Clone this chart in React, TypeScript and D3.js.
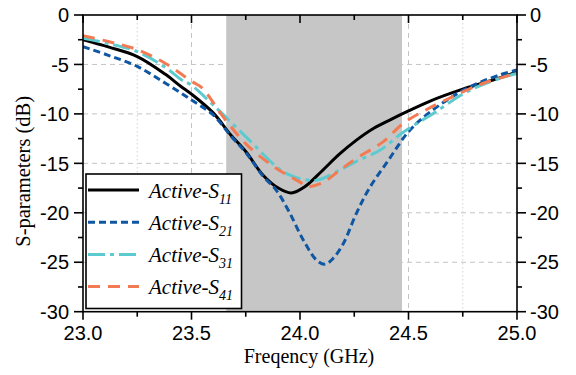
import React from "react";
import * as d3 from "d3";

// Frequency (GHz) and magnitude (dB) samples for each active S-parameter
const freqS11 = [23.0, 23.12, 23.25, 23.38, 23.45, 23.5, 23.6, 23.68, 23.75, 23.83, 23.9, 23.96, 24.02, 24.1, 24.18, 24.26, 24.34, 24.42, 24.5, 24.6, 24.75, 24.9, 25.0];
const dbS11 = [-2.5, -3.25, -4.2, -6.0, -7.2, -8.0, -9.9, -12.1, -13.8, -16.2, -17.5, -18.0, -17.4, -15.8, -14.1, -12.65, -11.45, -10.55, -9.7, -8.7, -7.5, -6.5, -5.75];

const freqS21 = [23.0, 23.12, 23.25, 23.38, 23.5, 23.6, 23.68, 23.75, 23.83, 23.89, 23.95, 24.015, 24.077, 24.115, 24.153, 24.2, 24.26, 24.32, 24.41, 24.5, 24.6, 24.77, 24.92, 25.0];
const dbS21 = [-3.2, -4.1, -5.2, -6.9, -8.6, -10.1, -12.2, -13.9, -16.3, -17.7, -19.9, -22.75, -24.8, -25.2, -24.6, -23.1, -20.05, -17.5, -14.6, -11.8, -9.8, -7.4, -6.07, -5.56];

const freqS31 = [23.0, 23.12, 23.25, 23.38, 23.45, 23.5, 23.6, 23.75, 23.9, 23.954, 24.0, 24.077, 24.184, 24.26, 24.37, 24.46, 24.5, 24.614, 24.77, 24.92, 25.0];
const dbS31 = [-2.35, -2.9, -3.7, -5.3, -6.5, -7.1, -9.1, -12.3, -15.5, -16.2, -16.55, -16.7, -15.67, -14.8, -13.65, -12.1, -11.5, -9.95, -7.75, -6.4, -5.9];

const freqS41 = [23.0, 23.12, 23.25, 23.38, 23.5, 23.55, 23.646, 23.754, 23.89, 24.0, 24.03, 24.1, 24.184, 24.26, 24.384, 24.476, 24.58, 24.69, 24.845, 25.0];
const dbS41 = [-2.1, -2.7, -3.5, -4.9, -6.7, -7.4, -10.3, -13.1, -15.5, -16.9, -17.35, -17.0, -15.67, -14.5, -12.8, -10.95, -9.6, -8.4, -6.9, -5.9];

// Highlighted operating band (GHz)
const bandStart = 23.66;
const bandEnd = 24.47;

const xTicks = [23.0, 23.5, 24.0, 24.5, 25.0];
const xMinorTicks = [23.25, 23.75, 24.25, 24.75];
const yTicks = [0, -5, -10, -15, -20, -25, -30];
const yMinorTicks = [-2.5, -7.5, -12.5, -17.5, -22.5, -27.5];

const seriesNames = ["11", "21", "31", "41"];

const W = 576;
const H = 375;
const left = 83;
const right = 517;
const top = 15;
const bottom = 311.7;

const axisFont = "Liberation Sans";
const titleFont = "Liberation Serif";

export default function App() {
  const x = d3.scaleLinear().domain([23, 25]).range([left, right]);
  const y = d3.scaleLinear().domain([-30, 0]).range([bottom, top]);

  const line = d3
    .line<[number, number]>()
    .x((d) => x(d[0]))
    .y((d) => y(d[1]))
    .curve(d3.curveCatmullRom.alpha(0.5));

  const zip = (f: number[], v: number[]) => f.map((fi, i) => [fi, v[i]] as [number, number]);

  const series = [
    { data: zip(freqS11, dbS11), color: "#000000", dash: "none", width: 3 },
    { data: zip(freqS21, dbS21), color: "#0f56a3", dash: "7 4", width: 3 },
    { data: zip(freqS31, dbS31), color: "#5ccbd0", dash: "17 5 4 5", width: 3 },
    { data: zip(freqS41, dbS41), color: "#f37b53", dash: "12 8", width: 3 },
  ];

  const tickStyle = { fontFamily: axisFont, fontSize: 20 };
  const titleStyle = { fontFamily: titleFont, fontSize: 20 };

  return (
    <svg
      width={W}
      height={H}
      viewBox={`0 0 ${W} ${H}`}
      style={{ position: "absolute", left: 0, top: 0, background: "#fff" }}
    >
      <defs>
        <clipPath id="plotClip">
          <rect x={left} y={top} width={right - left} height={bottom - top} />
        </clipPath>
      </defs>

      {/* grid */}
      {yTicks
        .filter((t) => t !== 0 && t !== -30)
        .map((t) => (
          <line key={"gy" + t} x1={left} x2={right} y1={y(t)} y2={y(t)} stroke="#c4c4c4" strokeWidth={1} strokeDasharray="5 4" />
        ))}
      {xTicks
        .filter((t) => t !== 23 && t !== 25)
        .map((t) => (
          <line key={"gx" + t} x1={x(t)} x2={x(t)} y1={top} y2={bottom} stroke="#c4c4c4" strokeWidth={1} strokeDasharray="5 4" />
        ))}
      {xMinorTicks.map((t) => (
        <line key={"gxm" + t} x1={x(t)} x2={x(t)} y1={top} y2={bottom} stroke="#d4d4d4" strokeWidth={1} strokeDasharray="1.5 2.5" />
      ))}

      {/* operating band */}
      <rect x={x(bandStart)} y={top} width={x(bandEnd) - x(bandStart)} height={bottom - top} fill="#c6c6c6" />

      {/* curves */}
      <g clipPath="url(#plotClip)">
        {series.map((s, i) => (
          <path
            key={i}
            d={line(s.data) || ""}
            fill="none"
            stroke={s.color}
            strokeWidth={s.width}
            strokeDasharray={s.dash}
            strokeLinejoin="round"
          />
        ))}
      </g>

      {/* frame */}
      <rect x={left} y={top} width={right - left} height={bottom - top} fill="none" stroke="#000" strokeWidth={1.6} />

      {/* left and right ticks with labels */}
      {yTicks.map((t) => (
        <g key={"ly" + t}>
          <line x1={left - 9} x2={left} y1={y(t)} y2={y(t)} stroke="#000" strokeWidth={1.6} />
          <line x1={right} x2={right + 9} y1={y(t)} y2={y(t)} stroke="#000" strokeWidth={1.6} />
          <text x={left - 14} y={y(t)} dy="0.36em" textAnchor="end" style={tickStyle} fill="#000">
            {t}
          </text>
          <text x={right + 13} y={y(t)} dy="0.36em" textAnchor="start" style={tickStyle} fill="#000">
            {t}
          </text>
        </g>
      ))}
      {yMinorTicks.map((t) => (
        <g key={"lym" + t}>
          <line x1={left - 5} x2={left} y1={y(t)} y2={y(t)} stroke="#000" strokeWidth={1.6} />
          <line x1={right} x2={right + 5} y1={y(t)} y2={y(t)} stroke="#000" strokeWidth={1.6} />
        </g>
      ))}

      {/* bottom and top ticks */}
      {xTicks.map((t) => (
        <g key={"bx" + t}>
          <line x1={x(t)} x2={x(t)} y1={bottom} y2={bottom + 8} stroke="#000" strokeWidth={1.6} />
          <line x1={x(t)} x2={x(t)} y1={top} y2={top + 8} stroke="#000" strokeWidth={1.6} />
          <text x={x(t)} y={340} textAnchor="middle" style={tickStyle} fill="#000">
            {t.toFixed(1)}
          </text>
        </g>
      ))}
      {xMinorTicks.map((t) => (
        <g key={"bxm" + t}>
          <line x1={x(t)} x2={x(t)} y1={bottom} y2={bottom + 5} stroke="#000" strokeWidth={1.6} />
          <line x1={x(t)} x2={x(t)} y1={top} y2={top + 5} stroke="#000" strokeWidth={1.6} />
        </g>
      ))}

      {/* axis titles */}
      <text x={309} y={362.5} textAnchor="middle" style={titleStyle} fill="#000">
        Freqency (GHz)
      </text>
      <text
        transform={`translate(30, ${(top + bottom) / 2 + 8}) rotate(-90)`}
        textAnchor="middle"
        style={{ fontFamily: titleFont, fontSize: 20.5 }}
        fill="#000"
      >
        S-parameters (dB)
      </text>

      {/* legend */}
      <rect x={86} y={174} width={155.5} height={134.5} fill="#fff" stroke="#000" strokeWidth={1.6} />
      {series.map((s, i) => {
        const ly = 190 + i * 32.2;
        return (
          <g key={"lg" + i}>
            <line x1={88} x2={139} y1={ly} y2={ly} stroke={s.color} strokeWidth={s.width} strokeDasharray={s.dash} />
            <text x={149} y={ly + 7.5} style={{ fontFamily: titleFont, fontSize: 21, fontStyle: "italic" }} fill="#000">
              Active-S
              <tspan style={{ fontSize: 14 }} dy={6}>
                {seriesNames[i]}
              </tspan>
            </text>
          </g>
        );
      })}
    </svg>
  );
}
